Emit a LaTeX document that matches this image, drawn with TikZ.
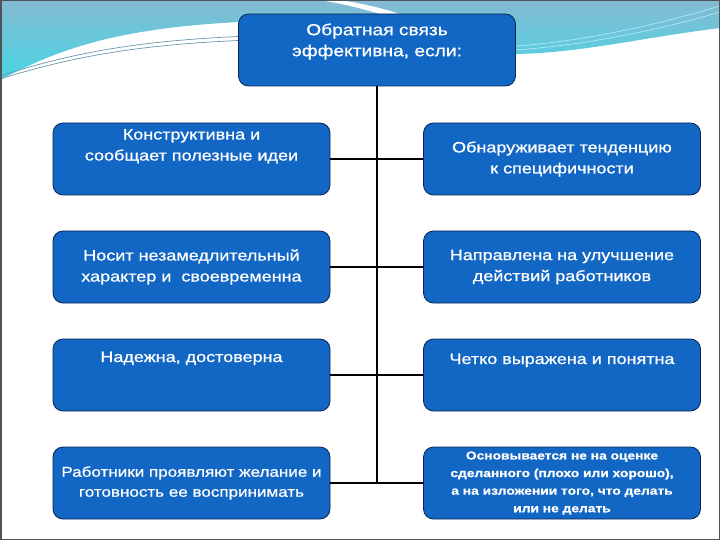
\documentclass[tikz,border=0pt]{standalone}
\usepackage{fontspec}
\setmainfont{Liberation Sans}[FakeStretch=1.2, FakeBold=0.8]
\usetikzlibrary{positioning,calc}
\definecolor{boxblue}{RGB}{18,102,196}
\definecolor{boxedge}{RGB}{12,38,84}
\definecolor{swooshtop}{RGB}{132,186,210}
\definecolor{swooshlow}{RGB}{72,214,228}
\definecolor{swooshline}{RGB}{105,150,172}
\definecolor{framegray}{RGB}{80,84,88}
% extra empty line below the text, to lift it inside its box
\newcommand{\cardlift}[1]{\\[#1]\strut}

\begin{document}
\begin{tikzpicture}[x=1pt, y=-1pt, every node/.style={font=\fontsize{15}{21}\selectfont},
    card/.style={draw=boxedge, line width=0.8pt, fill=boxblue, text=white, rounded corners=10pt,
                 minimum width=277pt, minimum height=72pt, align=center, inner sep=2pt},
    link/.style={line width=1.8pt, black}]
    \useasboundingbox (0,0) rectangle (720,540);

    % slide background
    \shade[top color=swooshtop, bottom color=swooshlow] (0,0) -- (720,0) -- (720,28)
        .. controls (640,38) and (580,53) .. (516,54) -- (377,45) -- (240,22)
        .. controls (120,28) and (60,48) .. (0,80) -- cycle;
    \fill[white] (318,0) -- (340,0) .. controls (365,4) and (385,9) .. (400,14) -- (380,14) .. controls (360,8) and (340,3) .. (318,0) -- cycle;
    \draw[swooshline, line width=0.7pt] (0,76) .. controls (80,50) and (150,40) .. (250,36);
    \draw[swooshline, line width=0.7pt] (0,79) .. controls (80,54) and (150,44) .. (250,40);
    \draw[white!70!cyan, line width=0.7pt] (516,46) .. controls (600,40) and (680,18) .. (720,6);
    \draw[white!70!cyan, line width=0.7pt] (516,50) .. controls (600,44) and (680,24) .. (720,12);
    \draw[framegray, line width=1.5pt] (0.75,0.75) rectangle (719.25,539.25);

    % Title
    \node[card, font=\fontsize{16}{21}\selectfont] (head) at (377,50) {Обратная связь\\эффективна, если:\cardlift{-7pt}};

    % Left column
    \node[card] (l1) at (191.5,159) {Конструктивна и\\сообщает полезные идеи\cardlift{1pt}};
    \node[card] (l2) at (191.5,267) {Носит незамедлительный\\характер и \ своевременна};
    \node[card] (l3) at (191.5,375) {Надежна, достоверна\cardlift{9pt}};
    \node[card, font=\fontsize{14.2}{20}\selectfont] (l4) at (191.5,483) {Работники проявляют желание и\\готовность ее воспринимать};

    % Right column
    \node[card] (r1) at (562,159) {Обнаруживает тенденцию\\к специфичности};
    \node[card] (r2) at (562,267) {Направлена на улучшение\\действий работников};
    \node[card] (r3) at (562,375) {Четко выражена и понятна\cardlift{5pt}};
    \node[card, font=\fontsize{11.5}{17.6}\selectfont\bfseries] (r4) at (562,483) {Основывается не на оценке\\сделанного (плохо или хорошо),\\а на изложении того, что делать\\или не делать};

    % Connectors
    \draw[link] (head.south) -- (head.south |- l4.east);
    \draw[link] (l1.east) -- (r1.west);
    \draw[link] (l2.east) -- (r2.west);
    \draw[link] (l3.east) -- (r3.west);
    \draw[link] (l4.east) -- (r4.west);
\end{tikzpicture}
\end{document}
